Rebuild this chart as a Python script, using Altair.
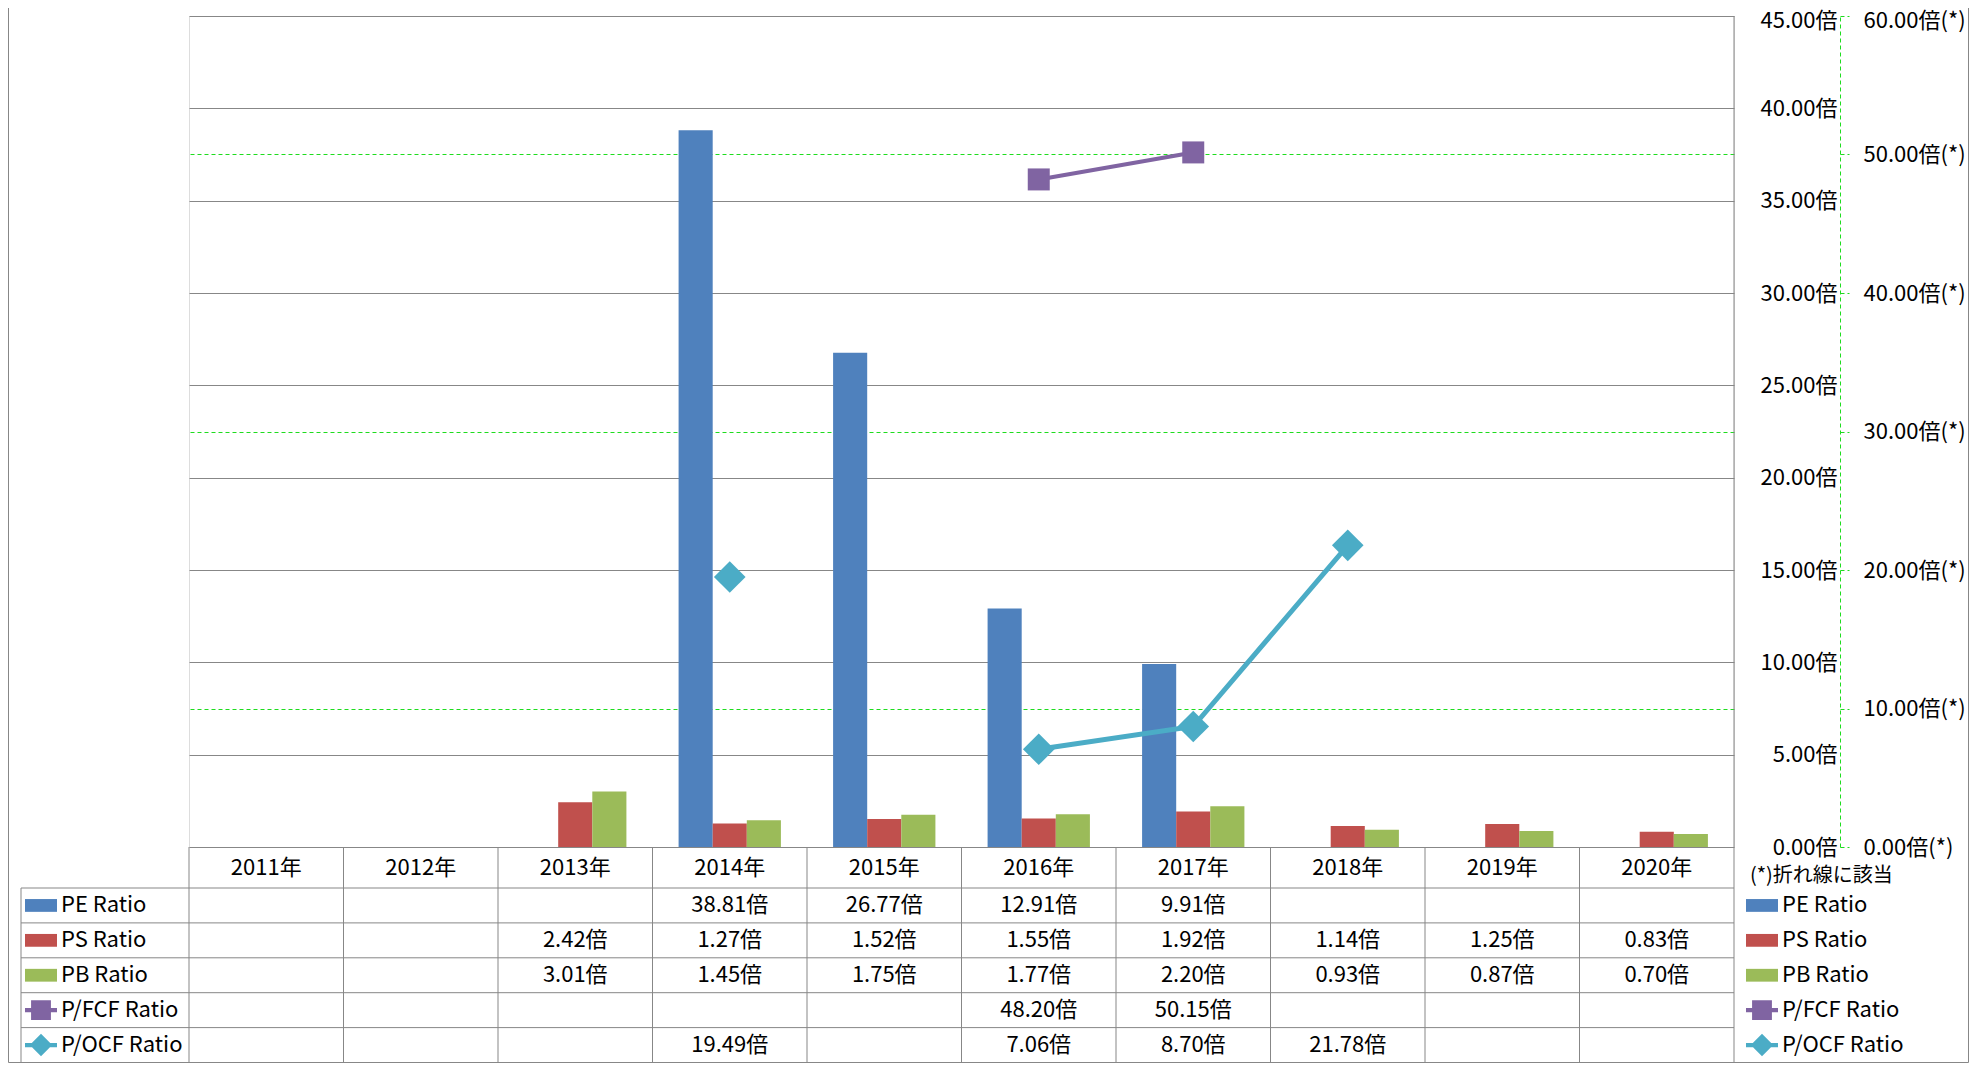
import altair as alt
import pandas as pd

# ---------------- data ----------------
years = ["2011年", "2012年", "2013年", "2014年", "2015年",
         "2016年", "2017年", "2018年", "2019年", "2020年"]
series_names = ["PE Ratio", "PS Ratio", "PB Ratio", "P/FCF Ratio", "P/OCF Ratio"]
series_colors = ["#4F81BD", "#C0504D", "#9BBB59", "#8064A2", "#4BACC6"]
bar_series = ["PE Ratio", "PS Ratio", "PB Ratio"]

pe = [None, None, None, 38.81, 26.77, 12.91, 9.91, None, None, None]
ps = [None, None, 2.42, 1.27, 1.52, 1.55, 1.92, 1.14, 1.25, 0.83]
pb = [None, None, 3.01, 1.45, 1.75, 1.77, 2.20, 0.93, 0.87, 0.70]
pfcf = [None, None, None, None, None, 48.20, 50.15, None, None, None]
pocf = [None, None, None, 19.49, None, 7.06, 8.70, 21.78, None, None]

primary_ticks = [0, 5, 10, 15, 20, 25, 30, 35, 40, 45]
secondary_ticks = [0, 10, 20, 30, 40, 50, 60]
unit = "倍"
footnote = "(*)折れ線に該当"

values = dict(zip(series_names, [pe, ps, pb, pfcf, pocf]))

# ---------------- tables for the library ----------------
bar_df = pd.DataFrame([
    {"year": y, "series": s, "value": v}
    for s in bar_series for y, v in zip(years, values[s]) if v is not None
])
table_df = pd.DataFrame([
    {"year": y, "row": s, "label": f"{v:.2f}{unit}"}
    for s in series_names for y, v in zip(years, values[s]) if v is not None
])


def line_frame(name):
    d = pd.DataFrame({"year": years, "value": values[name]})
    d["series"] = name
    d["seg"] = d["value"].isna().cumsum()
    return d.dropna(subset=["value"])


fcf_df = line_frame("P/FCF Ratio")
ocf_df = line_frame("P/OCF Ratio")
rows_df = pd.DataFrame({"row": series_names})
years_df = pd.DataFrame({"year": years})

# ---------------- layout constants ----------------
W, H = 1545, 831
ROW_TOP, TB = 872, 1046.5
GRID = "#878787"
GREEN = "#1EDC1E"
FONT = "Noto Sans CJK JP"

color_scale = alt.Scale(domain=series_names, range=series_colors)
xscale = alt.Scale(domain=years, paddingInner=0, paddingOuter=0)
row_scale = alt.Scale(type="band", domain=series_names, range=[ROW_TOP, TB],
                      paddingInner=0, paddingOuter=0)
swatch_paths = [
    "M-1,-0.4H1V0.4H-1Z",
    "M-1,-0.4H1V0.4H-1Z",
    "M-1,-0.4H1V0.4H-1Z",
    "M-1,-0.13H1V0.13H-1Z M-0.62,-0.62H0.62V0.62H-0.62Z",
    "M-1,-0.13H1V0.13H-1Z M0,-0.7L0.7,0L0,0.7L-0.7,0Z",
]
shape_scale = alt.Scale(domain=series_names, range=swatch_paths)

x_axis = alt.Axis(orient="bottom", title=None, domain=False, ticks=False,
                  tickSize=0, labelPadding=20, labelBaseline="middle",
                  labelAngle=0, labelFontSize=22, grid=False,
                  labelColor="black")


def xenc(**kw):
    return alt.X("year:N", scale=xscale, sort=years, axis=x_axis, **kw)


# ---------------- bars (primary axis) ----------------
bars = alt.Chart(bar_df).mark_bar().encode(
    x=xenc(),
    xOffset=alt.XOffset("series:N",
                        scale=alt.Scale(domain=bar_series, paddingInner=0,
                                        paddingOuter=0.765)),
    y=alt.Y("value:Q", scale=alt.Scale(domain=[0, 45], nice=False),
            axis=alt.Axis(orient="right", title=None, values=primary_ticks,
                          domain=False, ticks=False, tickSize=0,
                          labelPadding=103, labelAlign="right",
                          labelBaseline="middle", labelFontSize=22,
                          labelColor="black",
                          labelOffset={"condition": {"test": "datum.value === 45",
                                                     "value": 4}, "value": 0},
                          labelExpr=f"format(datum.value, '.2f') + '{unit}'",
                          grid=True, gridColor=GRID, gridWidth=1)),
    color=alt.Color("series:N", scale=color_scale, legend=None),
)

# ---------------- lines (secondary axis) ----------------
sec_y = alt.Y("value:Q", scale=alt.Scale(domain=[0, 60], nice=False),
              axis=alt.Axis(orient="right", offset=106, title=None,
                            values=secondary_ticks,
                            domain=True, domainColor=GREEN, domainDash=[4, 3],
                            ticks=True, tickSize=9, tickColor=GREEN,
                            tickDash=[4, 3], labelPadding=14, labelAlign="left",
                            labelBaseline="middle", labelFontSize=22,
                            labelColor="black",
                            labelOffset={"condition": {"test": "datum.value === 60",
                                                       "value": 4}, "value": 0},
                            labelExpr=f"format(datum.value, '.2f') + '{unit}(*)'",
                            grid=True, gridColor=GREEN, gridDash=[4, 3],
                            gridOpacity={"condition": {"test": "datum.value % 20 === 0",
                                                       "value": 0},
                                         "value": 1}))

fcf_line = alt.Chart(fcf_df).mark_line(strokeWidth=4).encode(
    x=xenc(), y=sec_y, detail="seg:N",
    color=alt.Color("series:N", scale=color_scale, legend=None))
fcf_pts = alt.Chart(fcf_df).mark_point(shape="square", size=484, filled=True,
                                       opacity=1, strokeWidth=0).encode(
    x=xenc(), y=sec_y,
    color=alt.Color("series:N", scale=color_scale, legend=None))
ocf_line = alt.Chart(ocf_df).mark_line(strokeWidth=5).encode(
    x=xenc(), y=sec_y, detail="seg:N",
    color=alt.Color("series:N", scale=color_scale, legend=None))
ocf_pts = alt.Chart(ocf_df).mark_point(shape="diamond", size=1000, filled=True,
                                       opacity=1, strokeWidth=0).encode(
    x=xenc(), y=sec_y,
    color=alt.Color("series:N", scale=color_scale, legend=None))
lines = alt.layer(fcf_line, ocf_line, fcf_pts, ocf_pts)

# ---------------- data table ----------------
row_y = alt.Y("row:N", scale=row_scale, sort=series_names, axis=None)
row_y0 = alt.Y("row:N", scale=row_scale, sort=series_names, axis=None, bandPosition=0)

cells = alt.Chart(table_df).mark_text(fontSize=22, color="black",
                                      baseline="middle", align="center").encode(
    x=xenc(), y=row_y, text="label:N")
row_lines = alt.Chart(rows_df).mark_rule(color=GRID, strokeWidth=1).encode(
    y=row_y0, x=alt.value(-168), x2=alt.value(W))
col_lines = alt.Chart(years_df).mark_rule(color=GRID, strokeWidth=1).encode(
    x=xenc(bandPosition=0), y=alt.value(H), y2=alt.value(TB))
right_border = alt.Chart(years_df.head(1)).mark_rule(color=GRID, strokeWidth=1).encode(
    x=alt.value(W), y=alt.value(0), y2=alt.value(TB))
left_border = alt.Chart(years_df.head(1)).mark_rule(color=GRID, strokeWidth=1).encode(
    x=alt.value(-168), y=alt.value(ROW_TOP), y2=alt.value(TB))
outer_bottom = alt.Chart(years_df.head(1)).mark_rule(color=GRID, strokeWidth=1).encode(
    x=alt.value(-180.5), x2=alt.value(1779.5), y=alt.value(TB))
outer_left = alt.Chart(years_df.head(1)).mark_rule(color=GRID, strokeWidth=1).encode(
    x=alt.value(-180.5), y=alt.value(-8), y2=alt.value(TB))
outer_right = alt.Chart(years_df.head(1)).mark_rule(color=GRID, strokeWidth=1).encode(
    x=alt.value(1779.5), y=alt.value(-8), y2=alt.value(TB))

left_sw = alt.Chart(rows_df).mark_point(filled=True, opacity=1, size=1024,
                                        strokeWidth=0).encode(
    x=alt.value(-148), y=row_y,
    shape=alt.Shape("row:N", scale=shape_scale, legend=None),
    color=alt.Color("row:N", scale=color_scale, legend=None))
left_txt = alt.Chart(rows_df).mark_text(fontSize=22, color="black", align="left",
                                        baseline="middle").encode(
    x=alt.value(-128), y=row_y, text="row:N")
right_sw = alt.Chart(rows_df).mark_point(filled=True, opacity=1, size=1024,
                                         strokeWidth=0).encode(
    x=alt.value(1573), y=row_y,
    shape=alt.Shape("row:N", scale=shape_scale, legend=None),
    color=alt.Color("row:N", scale=color_scale, legend=None))
right_txt = alt.Chart(rows_df).mark_text(fontSize=22, color="black", align="left",
                                         baseline="middle").encode(
    x=alt.value(1593), y=row_y, text="row:N")
note = alt.Chart(pd.DataFrame({"t": [footnote]})).mark_text(
    fontSize=20, color="black", align="left", baseline="middle").encode(
    x=alt.value(1561), y=alt.value(860), text="t:N")

table = alt.layer(row_lines, col_lines, left_border, right_border,
                  outer_bottom, outer_left, outer_right,
                  cells, left_sw, left_txt, right_sw, right_txt, note)

chart = alt.layer(bars, lines, table).resolve_scale(y="independent").properties(
    width=W, height=H,
    autosize=alt.AutoSizeParams(type="none"),
    padding={"left": 181, "top": 8, "right": 235, "bottom": 216},
    background="white",
).configure_view(strokeWidth=0).configure(font=FONT).configure_axis(
    labelFont=FONT).configure_text(font=FONT)

chart.save("out.html", embed_options={"renderer": "svg", "actions": False})
